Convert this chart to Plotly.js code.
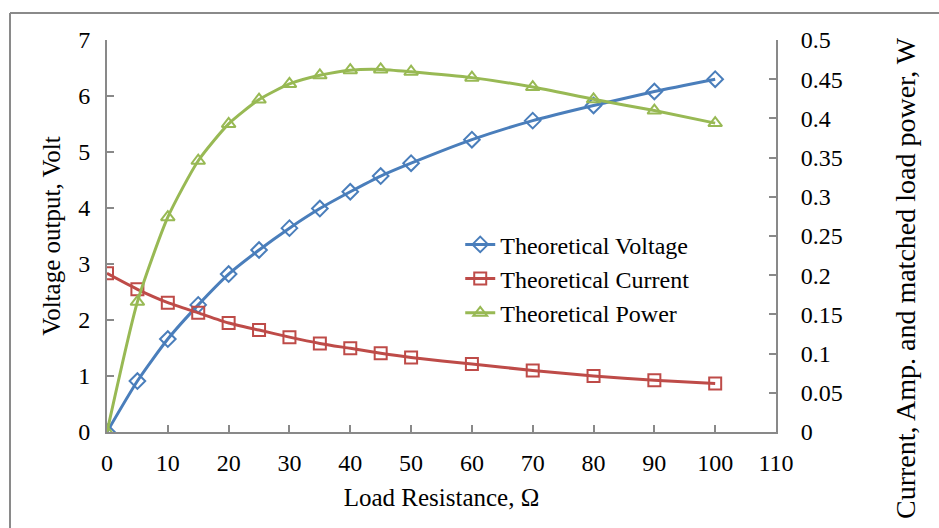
<!DOCTYPE html>
<html>
<head>
<meta charset="utf-8">
<script src="https://cdn.plot.ly/plotly-3.0.1.min.js"></script>
<style>html,body{margin:0;padding:0;background:#fff;}#chart{width:939px;height:528px;}</style>
</head>
<body>
<div id="chart"></div>
<script>
const resistance = [0, 5, 10, 15, 20, 25, 30, 35, 40, 45, 50, 60, 70, 80, 90, 100];
const voltage = [0, 0.91, 1.66, 2.27, 2.82, 3.25, 3.64, 3.99, 4.29, 4.57, 4.80, 5.22, 5.56, 5.83, 6.08, 6.30];
const current = [0.2024, 0.182, 0.165, 0.152, 0.139, 0.130, 0.121, 0.113, 0.1067, 0.1004, 0.095, 0.0867, 0.0785, 0.0714, 0.066, 0.062];
const power = [0, 0.166, 0.274, 0.346, 0.393, 0.424, 0.444, 0.455, 0.4615, 0.4625, 0.4595, 0.452, 0.440, 0.4244, 0.410, 0.394];
const seriesNames = ['Theoretical Voltage', 'Theoretical Current', 'Theoretical Power'];
const rightTitle = 'Current, Amp. and matched load power, W';

const serif = 'Liberation Serif, Times New Roman, serif';
const traces = [
  {x: resistance, y: voltage, name: seriesNames[0], type: 'scatter', mode: 'lines+markers', yaxis: 'y',
   line: {color: '#4A7EBB', width: 3, shape: 'spline', smoothing: 0.6},
   marker: {symbol: 'diamond-open', size: 12, color: '#4A7EBB', line: {width: 2, color: '#4A7EBB'}}},
  {x: resistance, y: current, name: seriesNames[1], type: 'scatter', mode: 'lines+markers', yaxis: 'y2',
   line: {color: '#BE4B48', width: 3, shape: 'spline', smoothing: 0.6},
   marker: {symbol: 'square-open', size: 12, color: '#BE4B48', line: {width: 2, color: '#BE4B48'}}},
  {x: resistance, y: power, name: seriesNames[2], type: 'scatter', mode: 'lines+markers', yaxis: 'y2',
   line: {color: '#98B954', width: 3, shape: 'spline', smoothing: 0.6},
   marker: {symbol: 'triangle-up-open', size: 12, color: '#98B954', line: {width: 2, color: '#98B954'}}}
];

const axisCol = '#898989';
const layout = {
  width: 939, height: 528,
  margin: {l: 107, r: 163, t: 40, b: 96, pad: 0},
  paper_bgcolor: '#fff', plot_bgcolor: '#fff',
  font: {family: serif, color: '#000', size: 24},
  showlegend: true,
  legend: {x: 0.528, y: 0.535, xanchor: 'left', yanchor: 'top', bgcolor: 'rgba(0,0,0,0)',
           font: {family: serif, size: 24, color: '#000'}, tracegroupgap: 0, itemwidth: 30},
  xaxis: {range: [0, 110], dtick: 10, tick0: 0, showgrid: false, zeroline: false,
          showline: true, linecolor: axisCol, linewidth: 2, ticks: 'inside', ticklen: 7, tickcolor: axisCol, tickwidth: 2,
          tickfont: {family: serif, size: 24}, ticklabelstandoff: 8,
          title: {text: 'Load Resistance, Ω', font: {family: serif, size: 25}, standoff: 14}},
  yaxis: {range: [0, 7], dtick: 1, showgrid: false, zeroline: false,
          showline: true, linecolor: axisCol, linewidth: 2, ticks: 'inside', ticklen: 7, tickcolor: axisCol, tickwidth: 2,
          tickfont: {family: serif, size: 24}, ticklabelstandoff: 10,
          title: {text: 'Voltage output, Volt', font: {family: serif, size: 25}, standoff: 10}},
  yaxis2: {range: [0, 0.5], dtick: 0.05, overlaying: 'y', side: 'right', showgrid: false, zeroline: false,
           showline: true, linecolor: axisCol, linewidth: 2, ticks: 'inside', ticklen: 7, tickcolor: axisCol, tickwidth: 2,
           tickfont: {family: serif, size: 24}, ticklabelstandoff: 18},
  annotations: [
    {text: rightTitle, xref: 'paper', yref: 'paper', x: (905 - 107) / 669, y: (432 - 278) / 392,
     xanchor: 'center', yanchor: 'middle', textangle: -90, showarrow: false,
     font: {family: serif, size: 28, color: '#000'}}
  ],
  shapes: [
    {type: 'line', xref: 'paper', yref: 'paper', x0: -97/669, x1: -97/669, y0: 1 + 27/392, y1: -1, line: {color: '#8a8a8a', width: 2}},
    {type: 'line', xref: 'paper', yref: 'paper', x0: -97/669, x1: 2, y0: 1 + 27/392, y1: 1 + 27/392, line: {color: '#8a8a8a', width: 2}}
  ]
};

Plotly.newPlot('chart', traces, layout, {displayModeBar: false, staticPlot: true});
</script>
</body>
</html>
